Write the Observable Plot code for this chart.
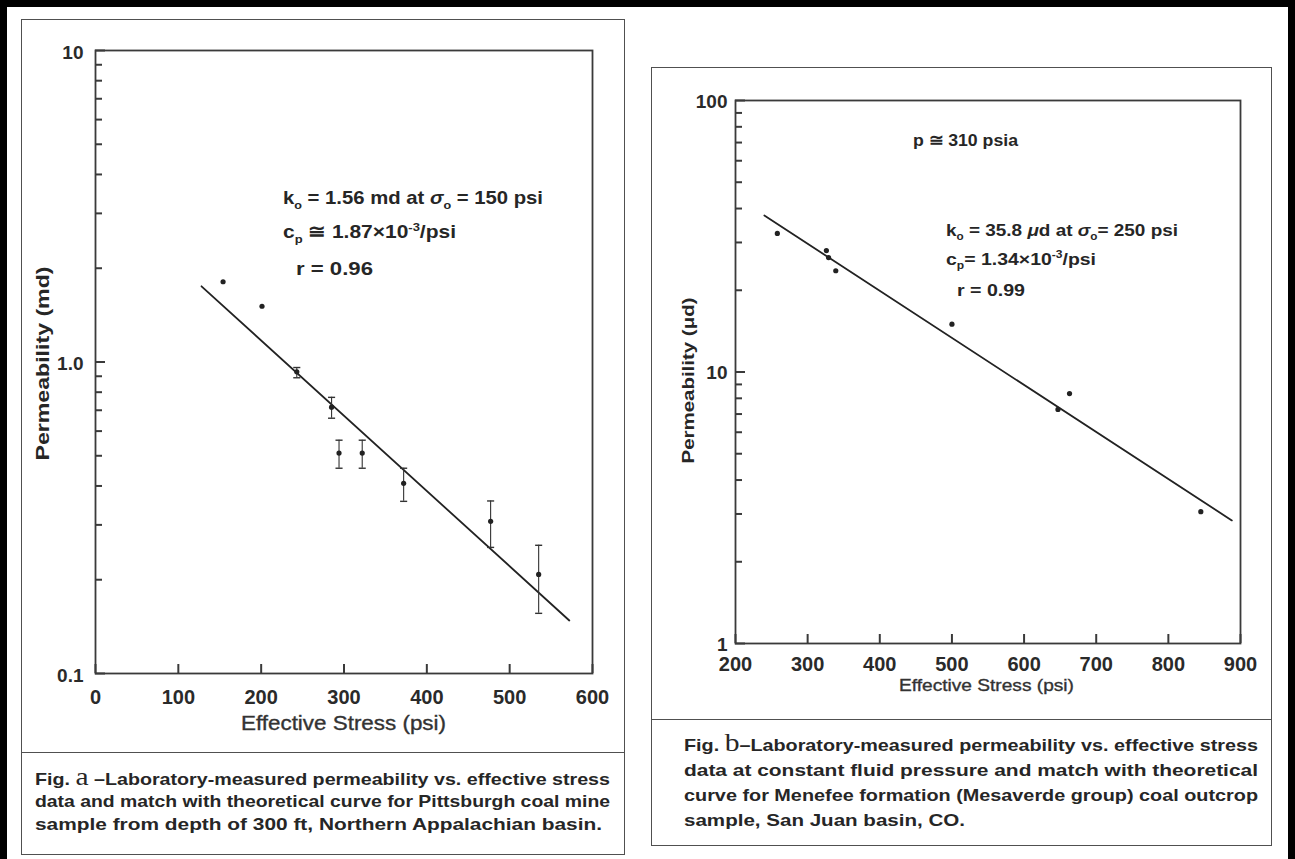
<!DOCTYPE html>
<html>
<head>
<meta charset="utf-8">
<script src="https://cdn.jsdelivr.net/npm/d3@7"></script>
<script src="https://cdn.jsdelivr.net/npm/@observablehq/plot@0.6"></script>
<style>
html, body { margin: 0; padding: 0; background: #fff; }
#page { position: relative; width: 1295px; height: 859px; overflow: hidden; background: #fff;
  font-family: "Liberation Sans", Arial, Helvetica, sans-serif; color: #262626; }
.bar { position: absolute; background: #000; }
.box { position: absolute; border: 1.6px solid #505050; box-sizing: border-box; }
.hline { position: absolute; height: 0; border-top: 1.6px solid #505050; }
.txt { position: absolute; left: 0; top: 0; white-space: nowrap; line-height: 1; }
.txt sub, .txt sup { font-size: 0.62em; line-height: 0; }
.heavy { -webkit-text-stroke: 0.35px #333; }
.serif { font-family: "Liberation Serif", "DejaVu Serif", serif; font-weight: normal; font-size: 1.5em; line-height: 0; -webkit-text-stroke: 0; }
.plot { position: absolute; top: 0; }
</style>
</head>
<body>
<div id="page">
  <div class="bar" style="left:0;top:0;width:1295px;height:7px"></div>
  <div class="bar" style="left:0;top:0;width:7px;height:859px"></div>
  <div class="bar" style="left:1288px;top:0;width:7px;height:859px"></div>
  <div class="box" style="left:21px;top:19px;width:604px;height:836px"></div>
  <div class="hline" style="left:21px;top:752px;width:604px"></div>
  <div class="box" style="left:651px;top:67px;width:621px;height:779px"></div>
  <div class="hline" style="left:651px;top:719px;width:621px"></div>
  <div id="left" class="plot" style="left:0px"></div>
  <div id="right" class="plot" style="left:640px"></div>
</div>
<script>
// ---------- Data ----------
// Fig. a : Pittsburgh coal (md)
const aStress   = [154, 201, 243, 285, 294, 322, 372, 477, 535];
const aPerm     = [1.81, 1.51, 0.93, 0.716, 0.51, 0.51, 0.408, 0.308, 0.208];
const aErrLow   = [null, null, 0.89, 0.66, 0.456, 0.456, 0.357, 0.254, 0.156];
const aErrHigh  = [null, null, 0.96, 0.77, 0.561, 0.561, 0.456, 0.358, 0.258];
const aFitStress = [128, 572];
const aFitPerm   = [1.75, 0.148];
const aXTicks = [0, 100, 200, 300, 400, 500, 600];
const aYTicks = [0.1, 1, 10];
const aYTickLabels = ["0.1", "1.0", "10"];
const aYMinor = [0.2, 0.3, 0.4, 0.5, 0.6, 0.7, 0.8, 0.9, 2, 3, 4, 5, 6, 7, 8, 9];

// Fig. b : Menefee coal (µd)
const bStress = [258, 326, 329, 339, 500, 647, 663, 845];
const bPerm   = [32.4, 28.0, 26.4, 23.6, 15.0, 7.28, 8.33, 3.06];
const bFitStress = [240, 888];
const bFitPerm   = [37.7, 2.84];
const bXTicks = [200, 300, 400, 500, 600, 700, 800, 900];
const bYTicks = [1, 10, 100];
const bYTickLabels = ["1", "10", "100"];
const bYMinor = [2, 3, 4, 5, 6, 7, 8, 9, 20, 30, 40, 50, 60, 70, 80, 90];

// ---------- Drawing ----------
const ink = "#222";
const axisInk = "#3a3a3a";
const capSymbol = { draw(ctx, size) { const w = Math.sqrt(size); ctx.moveTo(-w, 0); ctx.lineTo(w, 0); } };

function makePanel(o) {
  const pts = o.stress.map((s, i) => ({ s, k: o.perm[i], lo: o.lo ? o.lo[i] : null, hi: o.hi ? o.hi[i] : null }));
  const err = pts.filter(d => d.lo != null);
  const fit = o.fitX.map((x, i) => ({ x, y: o.fitY[i] }));
  const labelOf = new Map(o.yTicks.map((t, i) => [t, o.yLabels[i]]));
  const minorRows = o.yMinor.map(v => ({ v }));
  const majorRows = o.yTicks.map(v => ({ v }));
  const xRows = o.xTicks.map(v => ({ v }));
  const fw = o.width - o.ml - o.mr;   // frame width
  const fh = o.height - o.mt - o.mb;  // frame height
  return Plot.plot({
    width: o.width, height: o.height,
    marginTop: o.mt, marginRight: o.mr, marginBottom: o.mb, marginLeft: o.ml,
    style: { background: "transparent", overflow: "visible", fontFamily: "Liberation Sans, Arial, sans-serif",
             fontSize: "19px", color: "#2a2a2a" },
    x: { domain: o.xDomain },
    y: { type: "log", domain: o.yDomain },
    marks: [
      // inward ticks from the left and bottom frame edges
      Plot.tickY(minorRows, { y: "v", stroke: axisInk, strokeWidth: 2, insetRight: fw - 7 }),
      Plot.tickY(majorRows, { y: "v", stroke: axisInk, strokeWidth: 2, insetRight: fw - 10 }),
      Plot.tickX(xRows, { x: "v", stroke: axisInk, strokeWidth: 2, insetTop: fh - 9 }),
      // tick labels
      Plot.axisY({ ticks: o.yTicks, tickSize: 0, tickPadding: o.yPad, tickFormat: d => labelOf.get(d),
                   fontWeight: "bold", fontSize: 19, dy: o.yLabelDy, label: null }),
      Plot.axisX({ ticks: o.xTicks, tickSize: 0, tickPadding: o.xPad, tickFormat: d => String(d),
                   fontWeight: "bold", fontSize: 20, label: null }),
      Plot.frame({ stroke: axisInk, strokeWidth: 1.8 }),
      Plot.line(fit, { x: "x", y: "y", stroke: ink, strokeWidth: 1.8 }),
      Plot.ruleX(err, { x: "s", y1: "lo", y2: "hi", stroke: "#333", strokeWidth: 1.1 }),
      Plot.dot(err, { x: "s", y: "lo", symbol: capSymbol, r: 2, fill: "none", stroke: "#333", strokeWidth: 1.4 }),
      Plot.dot(err, { x: "s", y: "hi", symbol: capSymbol, r: 2, fill: "none", stroke: "#333", strokeWidth: 1.4 }),
      Plot.dot(pts, { x: "s", y: "k", r: 2.6, fill: ink, stroke: "none" })
    ]
  });
}

document.getElementById("left").appendChild(makePanel({
  stress: aStress, perm: aPerm, lo: aErrLow, hi: aErrHigh, fitX: aFitStress, fitY: aFitPerm,
  xDomain: [0, 600], yDomain: [0.1, 10], xTicks: aXTicks, yTicks: aYTicks, yLabels: aYTickLabels, yMinor: aYMinor,
  width: 640, height: 760, mt: 50, mr: 48, mb: 87, ml: 95, yPad: 12, xPad: 16, yLabelDy: 2
}));
document.getElementById("right").appendChild(makePanel({
  stress: bStress, perm: bPerm, fitX: bFitStress, fitY: bFitPerm,
  xDomain: [200, 900], yDomain: [1, 100], xTicks: bXTicks, yTicks: bYTicks, yLabels: bYTickLabels, yMinor: bYMinor,
  width: 655, height: 740, mt: 100, mr: 55, mb: 97, ml: 95, yPad: 8, xPad: 13, yLabelDy: 1
}));

// ---------- Text overlays ----------
const page = document.getElementById("page");
function addText(html, { left, right, cy, size, weight = "bold", color, cls }) {
  const el = document.createElement("div");
  el.className = "txt" + (cls ? " " + cls : "");
  el.innerHTML = html;
  el.style.fontSize = size + "px";
  el.style.fontWeight = weight;
  if (color) el.style.color = color;
  page.appendChild(el);
  const r = el.getBoundingClientRect();
  const s = (right - left) / r.width;
  el.style.left = left + "px";
  el.style.top = (cy - r.height / 2) + "px";
  el.style.transformOrigin = "0 50%";
  el.style.transform = `scaleX(${s})`;
  return el;
}
function addVText(html, { cx, top, bottom, size, weight = "bold" }) {
  const el = document.createElement("div");
  el.className = "txt";
  el.innerHTML = html;
  el.style.fontSize = size + "px";
  el.style.fontWeight = weight;
  page.appendChild(el);
  const r = el.getBoundingClientRect();
  const s = (bottom - top) / r.width;
  el.style.left = (cx - r.width / 2) + "px";
  el.style.top = ((top + bottom) / 2 - r.height / 2) + "px";
  el.style.transformOrigin = "50% 50%";
  el.style.transform = `rotate(-90deg) scaleX(${s})`;
  return el;
}

// axis titles
addText("Effective Stress (psi)", { left: 241, right: 446, cy: 723, size: 20, weight: "normal", color: "#333", cls: "heavy" });
addText("Effective Stress (psi)", { left: 899, right: 1074, cy: 685, size: 17, weight: "normal", color: "#333", cls: "heavy" });
addVText("Permeability (md)", { cx: 43, top: 266, bottom: 460, size: 19 });
addVText("Permeability (&mu;d)", { cx: 689, top: 297, bottom: 463, size: 17 });

// annotations, Fig. a
addText("k<sub>o</sub> = 1.56 md at <i>&sigma;</i><sub>o</sub> = 150 psi", { left: 283, right: 543, cy: 197, size: 19 });
addText("c<sub>p</sub> &#8773; 1.87&times;10<sup>-3</sup>/psi", { left: 283, right: 456, cy: 231, size: 19 });
addText("r = 0.96", { left: 296, right: 373, cy: 268, size: 19 });
// annotations, Fig. b
addText("p &#8773; 310 psia", { left: 913, right: 1018, cy: 140, size: 17 });
addText("k<sub>o</sub> = 35.8 <i>&mu;</i>d at <i>&sigma;</i><sub>o</sub>= 250 psi", { left: 946, right: 1178, cy: 230, size: 17 });
addText("c<sub>p</sub>= 1.34&times;10<sup>-3</sup>/psi", { left: 946, right: 1096, cy: 259, size: 17 });
addText("r = 0.99", { left: 957, right: 1025, cy: 290, size: 17 });

// captions
addText('Fig. <span class="serif">a</span> &ndash;Laboratory-measured permeability vs. effective stress', { left: 35, right: 610, cy: 779, size: 17 });
addText("data and match with theoretical curve for Pittsburgh coal mine", { left: 35, right: 610, cy: 801, size: 17 });
addText("sample from depth of 300 ft, Northern Appalachian basin.", { left: 35, right: 602, cy: 824, size: 17 });

addText('Fig. <span class="serif">b</span>&ndash;Laboratory-measured permeability vs. effective stress', { left: 684, right: 1258, cy: 745, size: 17 });
addText("data at constant fluid pressure and match with theoretical", { left: 684, right: 1258, cy: 770, size: 17 });
addText("curve for Menefee formation (Mesaverde group) coal outcrop", { left: 684, right: 1258, cy: 795, size: 17 });
addText("sample, San Juan basin, CO.", { left: 684, right: 965, cy: 820, size: 17 });
</script>
</body>
</html>
